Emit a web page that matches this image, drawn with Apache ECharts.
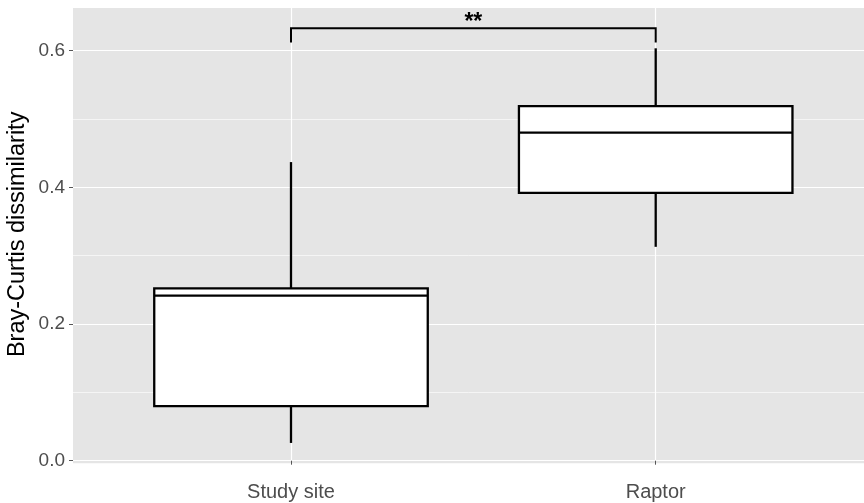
<!DOCTYPE html>
<html>
<head>
<meta charset="utf-8">
<script src="https://cdn.jsdelivr.net/npm/echarts@6/dist/echarts.min.js"></script>
<style>
html,body{margin:0;padding:0;background:#fff;}
#chart{width:864px;height:503px;}
</style>
</head>
<body>
<div id="chart"></div>
<script>
// ---- data ----
const categories = ['Study site', 'Raptor'];
const whiskerLow = [0.026, 0.313];
const q1 = [0.080, 0.392];
const median = [0.2415, 0.480];
const q3 = [0.2523, 0.519];
const whiskerHigh = [0.437, 0.6035];
const yTicks = [0, 0.2, 0.4, 0.6];
const yMinorGrid = [0.1, 0.3, 0.5];
const sigPair = [0, 1];
const sigLevels = [0.612, 0.633]; // tip bottom, bracket top
const sigLabel = '**';
const yMin = 0, yMax = 0.6625;

const FONT = 'Liberation Sans, Arial, Helvetica, sans-serif';
const chart = echarts.init(document.getElementById('chart'));

const boxData = categories.map((c, i) => [i, whiskerLow[i], q1[i], median[i], q3[i], whiskerHigh[i]]);

const option = {
  backgroundColor: '#fff',
  animation: false,
  grid: [
    { left: 73, right: 0, top: 8, bottom: 42.3, show: true, backgroundColor: '#E5E5E5', borderWidth: 0,
      containLabel: false, outerBoundsMode: 'none' },
    { left: 291, right: 208.3, top: 8, bottom: 42.3, containLabel: false, outerBoundsMode: 'none' }
  ],
  xAxis: [
    { type: 'value', gridIndex: 0, min: 0, max: 1, show: false },
    {
      type: 'category', gridIndex: 1, data: categories, boundaryGap: false,
      offset: 2.5,
      axisLine: { show: false },
      axisTick: { show: true, length: 4, lineStyle: { color: '#555', width: 1 } },
      axisLabel: { color: '#4D4D4D', fontSize: 20, fontFamily: FONT, margin: 19 },
      splitLine: { show: true, lineStyle: { color: '#fff', width: 1.2 } }
    }
  ],
  yAxis: [
    {
      type: 'value', gridIndex: 0, min: yMin, max: yMax, interval: 0.2,
      axisLine: { show: false },
      axisTick: { show: true, length: 4, customValues: yTicks, lineStyle: { color: '#555', width: 1 } },
      axisLabel: { color: '#4D4D4D', fontSize: 19, fontFamily: FONT, margin: 8,
        customValues: yTicks,
        formatter: v => v.toFixed(1) },
      splitLine: { show: true, lineStyle: { color: '#fff', width: 1.2 } },
      name: 'Bray-Curtis dissimilarity', nameLocation: 'middle', nameRotate: 90, nameGap: 43,
      nameMoveOverlap: false,
      nameTextStyle: { color: '#000', fontSize: 23.5, fontFamily: FONT }
    },
    { type: 'value', gridIndex: 1, min: yMin, max: yMax, show: false }
  ],
  graphic: [
    { type: 'rect', left: 73, top: 461, shape: { width: 791, height: 2.3 }, style: { fill: '#E5E5E5' }, z: -1, silent: true }
  ],
  series: [
    {
      type: 'line', xAxisIndex: 0, yAxisIndex: 0, data: [], z: 1, silent: true,
      markLine: {
        z: 1, silent: true, symbol: ['none', 'none'], label: { show: false },
        lineStyle: { color: '#fff', width: 0.6, type: 'solid' },
        data: yMinorGrid.map(v => ({ yAxis: v }))
      }
    },
    {
      type: 'custom', xAxisIndex: 1, yAxisIndex: 1, z: 3, silent: true,
      data: boxData,
      encode: { x: 0, y: [1, 2, 3, 4, 5] },
      renderItem: function (params, api) {
        const i = api.value(0);
        const lo = api.coord([i, api.value(1)]);
        const b1 = api.coord([i, api.value(2)]);
        const md = api.coord([i, api.value(3)]);
        const b3 = api.coord([i, api.value(4)]);
        const hi = api.coord([i, api.value(5)]);
        const w = api.size([1, 0])[0] * 0.75;
        const x = lo[0];
        const st = { stroke: '#000', lineWidth: 2.3, fill: null };
        return {
          type: 'group',
          children: [
            { type: 'line', shape: { x1: x, y1: b1[1], x2: x, y2: lo[1] }, style: st },
            { type: 'line', shape: { x1: x, y1: b3[1], x2: x, y2: hi[1] }, style: st },
            { type: 'rect', shape: { x: x - w / 2, y: b3[1], width: w, height: b1[1] - b3[1] },
              style: { fill: '#fff', stroke: '#000', lineWidth: 2.3 } },
            { type: 'line', shape: { x1: x - w / 2, y1: md[1], x2: x + w / 2, y2: md[1] }, style: st }
          ]
        };
      }
    },
    {
      type: 'custom', xAxisIndex: 1, yAxisIndex: 1, z: 4, silent: true,
      data: [[sigPair[0], sigPair[1], sigLevels[0], sigLevels[1]]],
      encode: { x: [0, 1], y: [2, 3] },
      renderItem: function (params, api) {
        const a = api.coord([api.value(0), api.value(3)]);
        const b = api.coord([api.value(1), api.value(3)]);
        const ta = api.coord([api.value(0), api.value(2)]);
        const tb = api.coord([api.value(1), api.value(2)]);
        return {
          type: 'group',
          children: [
            { type: 'polyline', shape: { points: [[ta[0], ta[1]], [a[0], a[1]], [b[0], b[1]], [tb[0], tb[1]]] },
              style: { stroke: '#000', lineWidth: 2, fill: null } },
            { type: 'text', x: (a[0] + b[0]) / 2, y: a[1] + 6,
              style: { text: sigLabel, fill: '#000', fontSize: 23, fontWeight: 'bold', fontFamily: FONT,
                align: 'center', verticalAlign: 'bottom' } }
          ]
        };
      }
    }
  ]
};
chart.setOption(option);
</script>
</body>
</html>
